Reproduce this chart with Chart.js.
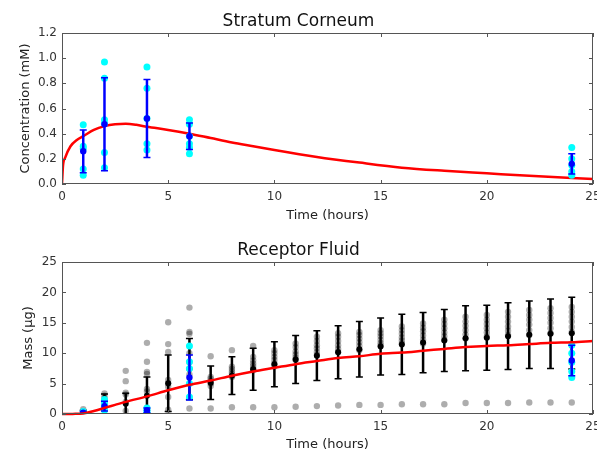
<!DOCTYPE html>
<html>
<head>
<meta charset="utf-8">
<script src="https://cdn.jsdelivr.net/npm/chart.js@4.4.1/dist/chart.umd.min.js"></script>
<style>
  body { margin: 0; background: #fff; }
  canvas { display: block; }
</style>
</head>
<body>
<canvas id="sc" width="597" height="228"></canvas>
<canvas id="rf" width="597" height="227"></canvas>
<script>
// ---- Stratum Corneum (top) ----
const scTimes = [1, 2, 4, 6, 24];
const scMean = [0.26, 0.475, 0.52, 0.38, 0.16];
const scSd = [0.17, 0.37, 0.31, 0.105, 0.08];
const scReps = [
  [0.47, 0.30, 0.28, 0.12, 0.07],
  [0.97, 0.84, 0.51, 0.48, 0.25, 0.13],
  [0.93, 0.76, 0.52, 0.32, 0.27],
  [0.51, 0.475, 0.38, 0.32, 0.29, 0.24],
  [0.29, 0.20, 0.15, 0.10, 0.07]
];
const scModelT = [0, 0.05, 0.15, 0.4, 0.7, 1, 1.5, 2, 2.5, 3, 3.5, 4, 5, 6, 7, 8, 9, 10, 12, 14, 16, 18, 20, 22, 25];
const scModelY = [0, 0.15, 0.21, 0.30, 0.35, 0.38, 0.43, 0.46, 0.475, 0.478, 0.47, 0.455, 0.43, 0.40, 0.365, 0.33, 0.30, 0.27, 0.215, 0.17, 0.13, 0.105, 0.085, 0.065, 0.04];

// ---- Receptor Fluid (bottom) ----
const rfTimes = [1, 2, 3, 4, 5, 6, 7, 8, 9, 10, 11, 12, 13, 14, 15, 16, 17, 18, 19, 20, 21, 22, 23, 24];
const rfMean = [0.3, 2.2, 1.7, 3.0, 5.05, 7.4, 5.15, 6.3, 7.35, 8.2, 8.95, 9.6, 10.15, 10.65, 11.1, 11.45, 11.75, 12.1, 12.45, 12.55, 12.8, 13.05, 13.2, 13.3];
const rfSd = [0.3, 1.1, 1.7, 3.1, 4.65, 5.0, 2.75, 3.1, 3.45, 3.7, 3.95, 4.1, 4.35, 4.55, 4.7, 4.95, 4.95, 5.1, 5.35, 5.35, 5.5, 5.55, 5.7, 5.9];
const rfReps = [
  [0.8, 0.4, 0.2, 0.1],
  [3.4, 3.0, 2.6, 2.0, 1.2],
  [7.1, 5.4, 3.5, 3.2, 2.0, 0.5],
  [11.7, 8.6, 6.9, 6.6, 4.1, 3.7, 1.0],
  [15.1, 11.5, 10.2, 5.6, 5.0, 4.5, 2.8, 0.7],
  [17.5, 13.5, 13.2, 10.0, 8.5, 6.5, 0.9],
  [9.5, 6.1, 5.8, 5.4, 5.0, 4.6, 0.9],
  [10.5, 7.8, 7.4, 7.0, 6.6, 6.1, 1.1],
  [11.2, 9.4, 8.8, 8.3, 7.9, 7.5, 7.2, 1.1],
  [10.5, 10.0, 9.4, 8.9, 8.3, 7.8, 1.1],
  [11.6, 11.0, 10.3, 9.8, 9.3, 8.9, 1.2],
  [12.7, 12.0, 11.3, 10.8, 10.2, 9.7, 1.3],
  [13.3, 12.7, 12.0, 11.3, 10.7, 10.2, 1.4],
  [13.5, 13.0, 12.4, 11.8, 11.2, 10.5, 1.5],
  [13.8, 13.3, 12.8, 12.2, 11.7, 11.3, 1.5],
  [14.4, 13.8, 13.2, 12.6, 12.1, 11.6, 1.6],
  [14.9, 14.2, 13.6, 12.9, 12.2, 11.6, 1.6],
  [15.5, 14.8, 14.1, 13.4, 12.8, 12.2, 1.6],
  [16.0, 15.2, 14.5, 13.8, 13.1, 12.4, 1.8],
  [16.3, 15.5, 14.8, 14.1, 13.4, 12.7, 1.8],
  [16.8, 16.0, 15.2, 14.4, 13.7, 13.0, 1.8],
  [17.1, 16.3, 15.5, 14.7, 13.8, 13.0, 1.9],
  [17.4, 16.6, 15.8, 15.0, 14.1, 13.3, 1.9],
  [17.6, 16.8, 16.0, 15.2, 14.3, 13.5, 1.9]
];
const rfObsTimes = [1, 2, 4, 6, 24];
const rfObsMean = [0.2, 1.3, 0.6, 6.0, 8.8];
const rfObsSd = [0.2, 0.8, 0.4, 3.7, 2.5];
const rfObsReps = [
  [0.4, 0.2, 0.1],
  [2.4, 1.8, 1.2, 0.6],
  [1.0, 0.6, 0.3],
  [11.2, 8.6, 7.5, 5.0, 2.8],
  [11.3, 10.0, 8.5, 7.0, 6.0]
];
const rfModelT = [0, 0.5, 1, 1.5, 2, 2.5, 3, 4, 5, 6, 7, 8, 9, 10, 11, 12, 13, 14, 15, 16, 17, 18, 19, 20, 21, 22, 23, 24, 25];
const rfModelY = [0, 0.02, 0.1, 0.5, 1.0, 1.5, 2.0, 2.9, 3.9, 4.8, 5.5, 6.3, 7.0, 7.6, 8.2, 8.7, 9.2, 9.5, 9.9, 10.1, 10.4, 10.7, 11.0, 11.2, 11.3, 11.5, 11.7, 11.8, 12.0];

const xTicks = [0, 5, 10, 15, 20, 25];

const FONT = 'DejaVu Sans';
Chart.defaults.font.family = FONT;
Chart.defaults.color = '#333';

function pts(xs, ys) {
  return xs.map((x, i) => ({ x: x, y: ys[i] }));
}
function repPts(times, reps) {
  const out = [];
  times.forEach((t, i) => reps[i].forEach(v => out.push({ x: t, y: v })));
  return out;
}

// frame with inward ticks on all four sides
const frameTicks = {
  id: 'frameTicks',
  afterDraw(chart) {
    const { ctx, chartArea: a, scales: { x, y } } = chart;
    ctx.save();
    ctx.strokeStyle = '#555';
    ctx.lineWidth = 1;
    ctx.strokeRect(a.left + 0.5, a.top + 0.5, a.right - a.left - 1, a.bottom - a.top - 1);
    ctx.beginPath();
    x.ticks.forEach(t => {
      const px = Math.round(x.getPixelForValue(t.value)) + 0.5;
      ctx.moveTo(px, a.top); ctx.lineTo(px, a.top + 4);
      ctx.moveTo(px, a.bottom); ctx.lineTo(px, a.bottom - 4);
    });
    y.ticks.forEach(t => {
      const py = Math.round(y.getPixelForValue(t.value)) + 0.5;
      ctx.moveTo(a.left, py); ctx.lineTo(a.left + 4, py);
      ctx.moveTo(a.right, py); ctx.lineTo(a.right - 4, py);
    });
    ctx.stroke();
    ctx.restore();
  }
};

// vertical error bars drawn just before a chosen dataset
function errorBars(groups) {
  return {
    id: 'errorBars',
    beforeDatasetDraw(chart, args) {
      const { ctx, chartArea: a, scales: { x, y } } = chart;
      const mine = groups.filter(g => g.before === args.index);
      if (!mine.length) return;
      ctx.save();
      ctx.beginPath();
      ctx.rect(a.left, a.top, a.right - a.left, a.bottom - a.top);
      ctx.clip();
      mine.forEach(g => {
        ctx.strokeStyle = g.color;
        g.times.forEach((t, i) => {
          const px = x.getPixelForValue(t);
          const hi = y.getPixelForValue(g.mean[i] + g.sd[i]);
          const lo = y.getPixelForValue(g.mean[i] - g.sd[i]);
          ctx.lineWidth = 2.5;
          ctx.beginPath(); ctx.moveTo(px, hi); ctx.lineTo(px, lo); ctx.stroke();
          ctx.lineWidth = 1.5;
          ctx.beginPath();
          ctx.moveTo(px - 3.5, hi); ctx.lineTo(px + 3.5, hi);
          ctx.moveTo(px - 3.5, lo); ctx.lineTo(px + 3.5, lo);
          ctx.stroke();
        });
      });
      ctx.restore();
    }
  };
}

function options(cfg) {
  return {
    responsive: false,
    animation: false,
    devicePixelRatio: 1,
    layout: { padding: 0 },
    plugins: {
      legend: { display: false },
      tooltip: { enabled: false },
      title: {
        display: true, text: cfg.title, color: '#111',
        font: { size: 17, weight: 'normal' },
        padding: cfg.titlePad
      }
    },
    scales: {
      x: {
        type: 'linear', min: 0, max: 25,
        afterBuildTicks: s => { s.ticks = xTicks.map(v => ({ value: v })); },
        ticks: { padding: 6, maxRotation: 0, font: { size: 12 }, callback: v => String(v) },
        grid: { display: false, drawTicks: false },
        border: { display: false },
        title: { display: true, text: 'Time (hours)', color: '#222', font: { size: 13 }, padding: { top: 0, bottom: cfg.xTitlePad } },
        afterFit: s => { s.height = cfg.xHeight; s.paddingLeft = 0; s.paddingRight = 0; }
      },
      y: {
        type: 'linear', min: 0, max: cfg.yTicks[cfg.yTicks.length - 1],
        afterBuildTicks: s => { s.ticks = cfg.yTicks.map(v => ({ value: v })); },
        ticks: { padding: 5, font: { size: 12 }, callback: cfg.yFmt },
        grid: { display: false, drawTicks: false },
        border: { display: false },
        title: { display: true, text: cfg.yTitle, color: '#222', font: { size: 13 }, padding: { top: cfg.yTitlePad, bottom: 0 } },
        afterFit: s => { s.width = 62; s.paddingTop = 0; s.paddingBottom = 0; }
      }
    }
  };
}

// top chart
new Chart(document.getElementById('sc'), {
  data: {
    datasets: [
      { type: 'scatter', data: pts(scTimes, scMean), order: 0,
        pointRadius: 3.2, pointBackgroundColor: '#0000ff', pointBorderWidth: 0 },
      { type: 'scatter', data: repPts(scTimes, scReps), order: 1,
        pointRadius: 3.5, pointBackgroundColor: '#00ffff', pointBorderWidth: 0 },
      { type: 'line', data: pts(scModelT, scModelY), order: 2,
        borderColor: '#ff0000', borderWidth: 2.5, pointRadius: 0,
        tension: 0.4, cubicInterpolationMode: 'monotone', fill: false }
    ]
  },
  options: options({
    title: 'Stratum Corneum', titlePad: { top: 11, bottom: 1.6 },
    yTitle: 'Concentration (mM)', yTitlePad: 18,
    yTicks: [0, 0.2, 0.4, 0.6, 0.8, 1.0, 1.2], yFmt: v => v.toFixed(1),
    xHeight: 44, xTitlePad: 5
  }),
  plugins: [frameTicks, errorBars([
    { before: 0, color: '#0000ff', times: scTimes, mean: scMean, sd: scSd }
  ])]
});

// bottom chart
new Chart(document.getElementById('rf'), {
  data: {
    datasets: [
      { type: 'line', data: pts(rfModelT, rfModelY), order: 0, clip: 3,
        borderColor: '#ff0000', borderWidth: 2.5, pointRadius: 0,
        tension: 0.4, cubicInterpolationMode: 'monotone', fill: false },
      { type: 'scatter', data: pts(rfObsTimes, rfObsMean), order: 1,
        pointRadius: 3.2, pointBackgroundColor: '#0000ff', pointBorderWidth: 0 },
      { type: 'scatter', data: repPts(rfObsTimes, rfObsReps), order: 2,
        pointRadius: 3.5, pointBackgroundColor: '#00ffff', pointBorderWidth: 0 },
      { type: 'scatter', data: repPts(rfTimes, rfReps), order: 3,
        pointRadius: 3.2, pointBackgroundColor: 'rgba(0,0,0,0.32)', pointBorderWidth: 0 },
      { type: 'scatter', data: pts(rfTimes, rfMean), order: 4,
        pointRadius: 3, pointBackgroundColor: '#000', pointBorderWidth: 0 }
    ]
  },
  options: options({
    title: 'Receptor Fluid', titlePad: { top: 12, bottom: 1.6 },
    yTitle: 'Mass (\u03bcg)', yTitlePad: 21,
    yTicks: [0, 5, 10, 15, 20, 25], yFmt: v => String(v),
    xHeight: 41, xTitlePad: 3
  }),
  plugins: [frameTicks, errorBars([
    { before: 4, color: '#000000', times: rfTimes, mean: rfMean, sd: rfSd },
    { before: 1, color: '#0000ff', times: rfObsTimes, mean: rfObsMean, sd: rfObsSd }
  ])]
});
</script>
</body>
</html>
